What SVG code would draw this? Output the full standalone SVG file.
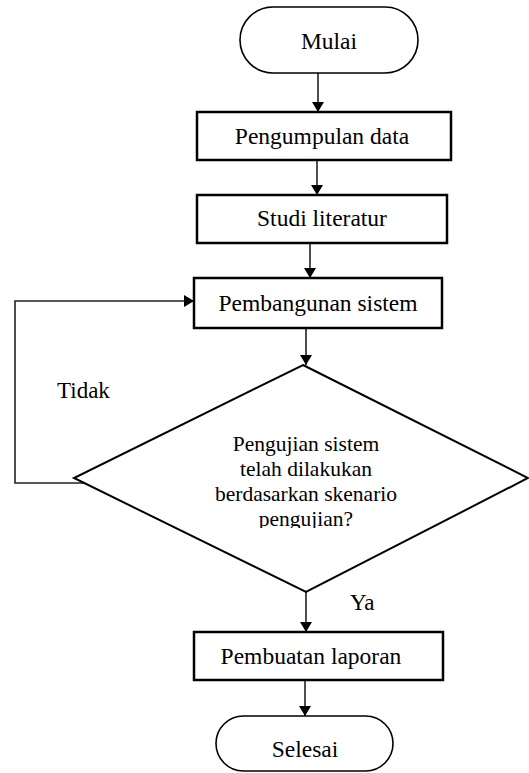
<svg xmlns="http://www.w3.org/2000/svg" width="529" height="773" viewBox="0 0 529 773">
<style>
  .t { font-family: "Liberation Serif", "Times New Roman", serif; font-size: 23.5px; fill: #000; text-anchor: middle; }
  .d { font-family: "Liberation Serif", "Times New Roman", serif; font-size: 21.5px; fill: #000; text-anchor: middle; }
  .lbl { font-family: "Liberation Serif", "Times New Roman", serif; font-size: 23px; fill: #000; }
  .box { fill: #fff; stroke: #000; stroke-width: 2.5; }
  .term { fill: #fff; stroke: #000; stroke-width: 1.6; }
  .dia { fill: #fff; stroke: #000; stroke-width: 2; }
  .c { fill: none; stroke: #222; stroke-width: 1.6; }
</style>
<defs>
  <marker id="ah" viewBox="0 0 10 12" refX="10" refY="6" markerWidth="10" markerHeight="12" markerUnits="userSpaceOnUse" orient="auto">
    <path d="M0,0 L10,6 L0,12 Z" fill="#000"/>
  </marker>
  <clipPath id="dclip"><rect x="0" y="420" width="529" height="108"/></clipPath>
</defs>
<rect width="529" height="773" fill="#fff"/>
<g id="connectors">
  <line class="c" x1="318" y1="73" x2="318" y2="112" marker-end="url(#ah)"/>
  <line class="c" x1="317" y1="160" x2="317" y2="195" marker-end="url(#ah)"/>
  <line class="c" x1="310" y1="243" x2="310" y2="278" marker-end="url(#ah)"/>
  <line class="c" x1="306" y1="328" x2="306" y2="365" marker-end="url(#ah)"/>
  <line class="c" x1="306" y1="592" x2="306" y2="632" marker-end="url(#ah)"/>
  <line class="c" x1="305" y1="680" x2="305" y2="716" marker-end="url(#ah)"/>
  <polyline class="c" points="84,483 15,483 15,301 194,301" marker-end="url(#ah)"/>
</g>
<g id="mulai">
  <rect class="term" x="240" y="7" width="178" height="66" rx="33" ry="33"/>
  <text class="t" x="329" y="49">Mulai</text>
</g>
<g id="pengumpulan">
  <rect class="box" x="197" y="112" width="254" height="48"/>
  <text class="t" x="322" y="144">Pengumpulan data</text>
</g>
<g id="studi">
  <rect class="box" x="197" y="195" width="250" height="48"/>
  <text class="t" x="322" y="226">Studi literatur</text>
</g>
<g id="pembangunan">
  <rect class="box" x="194" y="278" width="248" height="50"/>
  <text class="t" x="318" y="311">Pembangunan sistem</text>
</g>
<g id="pengujian">
  <polygon class="dia" points="303,365 528,478 306,592 74,478"/>
  <g clip-path="url(#dclip)">
    <text class="d" x="306" y="451">Pengujian sistem</text>
    <text class="d" x="306" y="476">telah dilakukan</text>
    <text class="d" x="306" y="501">berdasarkan skenario</text>
    <text class="d" x="306" y="526">pengujian?</text>
  </g>
</g>
<g id="labels">
  <text class="lbl" x="57" y="398">Tidak</text>
  <text class="lbl" x="350" y="610">Ya</text>
</g>
<g id="pembuatan">
  <rect class="box" x="194" y="632" width="249" height="48"/>
  <text class="t" x="311" y="664">Pembuatan laporan</text>
</g>
<g id="selesai">
  <rect class="term" x="216" y="716" width="177" height="55" rx="27.5" ry="27.5"/>
  <text class="t" x="305" y="757">Selesai</text>
</g>
</svg>
